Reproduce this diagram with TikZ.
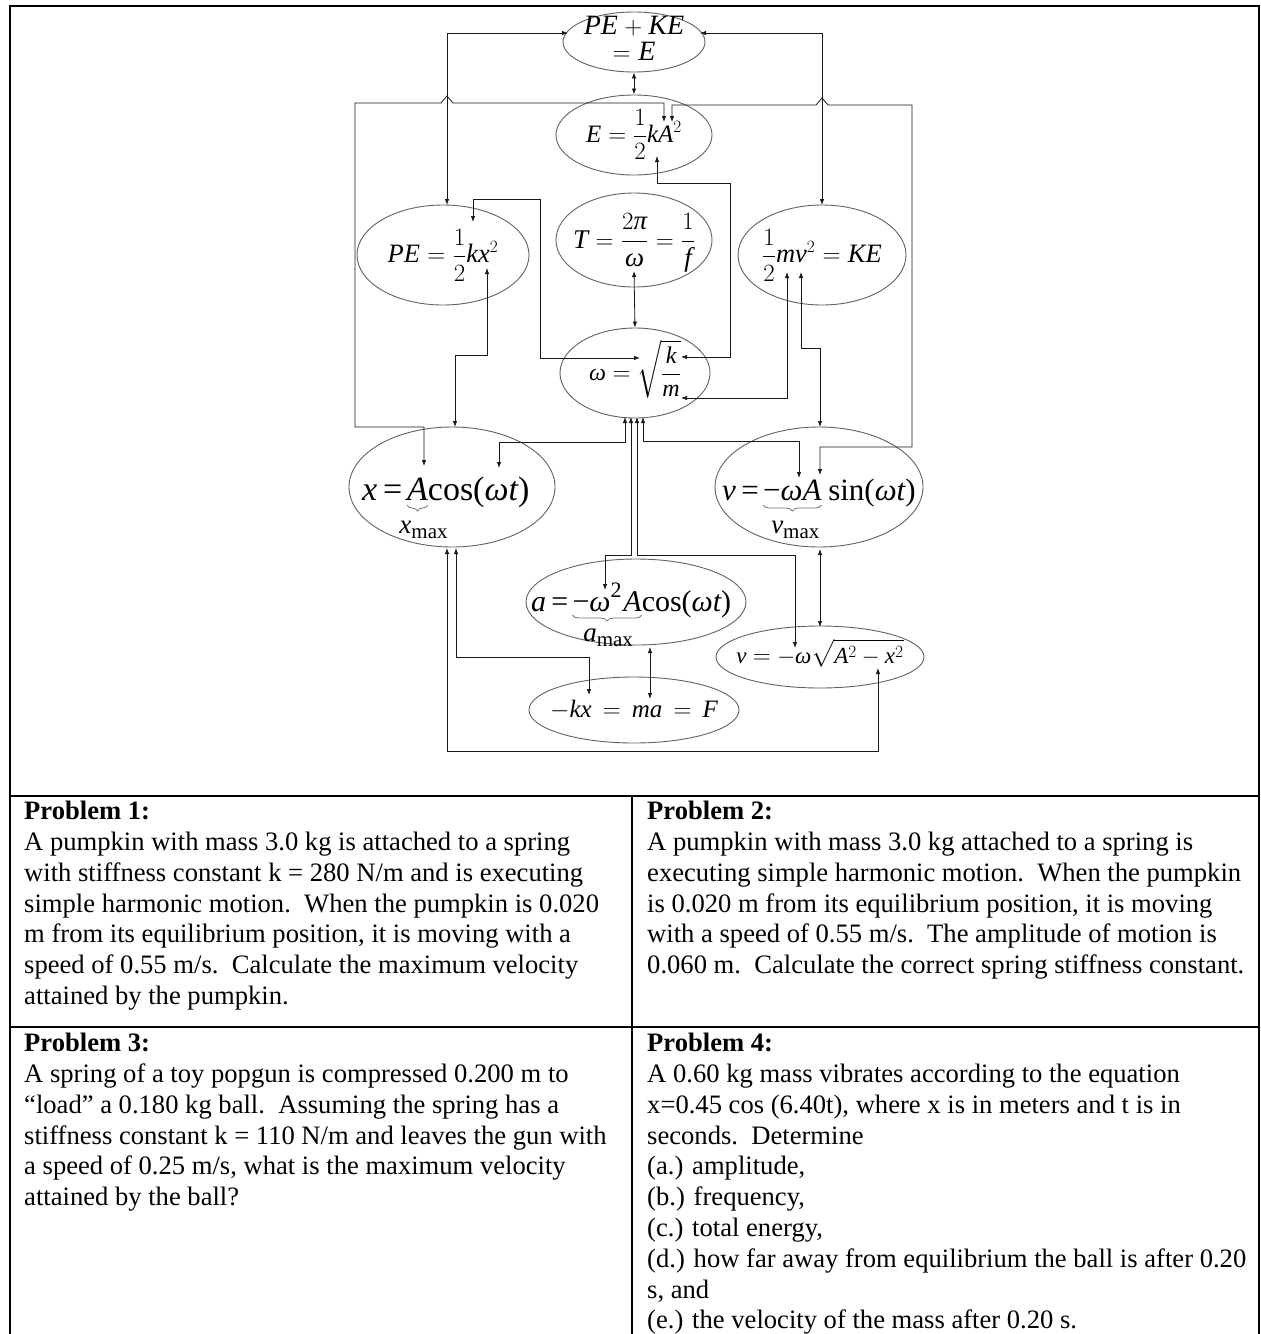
\documentclass[tikz,border=0pt]{standalone}
\usepackage{fontspec}
\setmainfont{Liberation Serif}
\newfontfamily\tnr[NFSSFamily=tnr]{Liberation Serif}
\DeclareFontShape{OML}{cmm}{m}{it}{<-6>cmmi5<6-7>cmmi6<7-8>cmmi7<8-9>cmmi8<9-10>cmmi9<10-12>cmmi10<12->cmmi12}{}
\DeclareFontShape{OMS}{cmsy}{m}{n}{<-6>cmsy5<6-7>cmsy6<7-8>cmsy7<8-9>cmsy8<9-10>cmsy9<10->cmsy10}{}
\DeclareFontShape{OMX}{cmex}{m}{n}{<->cmex10}{}
\DeclareSymbolFont{tnrit}{TU}{tnr}{m}{it}
\DeclareMathSymbol{a}{\mathalpha}{tnrit}{`a}
\DeclareMathSymbol{f}{\mathalpha}{tnrit}{`f}
\DeclareMathSymbol{k}{\mathalpha}{tnrit}{`k}
\DeclareMathSymbol{m}{\mathalpha}{tnrit}{`m}
\DeclareMathSymbol{t}{\mathalpha}{tnrit}{`t}
\DeclareMathSymbol{v}{\mathalpha}{tnrit}{`v}
\DeclareMathSymbol{x}{\mathalpha}{tnrit}{`x}
\DeclareMathSymbol{A}{\mathalpha}{tnrit}{`A}
\DeclareMathSymbol{E}{\mathalpha}{tnrit}{`E}
\DeclareMathSymbol{F}{\mathalpha}{tnrit}{`F}
\DeclareMathSymbol{K}{\mathalpha}{tnrit}{`K}
\DeclareMathSymbol{P}{\mathalpha}{tnrit}{`P}
\DeclareMathSymbol{T}{\mathalpha}{tnrit}{`T}
\usetikzlibrary{shapes.geometric,arrows.meta,decorations.pathreplacing}
\newcommand{\om}{\mbox{\itshape ω}}
\newcommand{\ppi}{\mbox{\itshape π}}
\newcommand{\tx}[1]{{\itshape #1}}
\newcommand{\ctrm}[2]{\smash{\makebox[0pt]{\fontsize{#1}{#1}\selectfont\raisebox{-0.3em}{$\displaystyle #2$}}}}
\newcommand{\ctrt}[3]{\smash{\makebox[0pt]{\fontsize{#1}{#2}\selectfont\raisebox{-0.25em}{\begin{tabular}{@{}c@{}}#3\end{tabular}}}}}
\newcommand{\maxlab}[1]{\tx{#1}\raisebox{-0.2em}{\fontsize{21}{21}\selectfont max}}
\begin{document}
\begin{tikzpicture}[x=1pt,y=-1pt,
  eq/.style={ellipse, draw=black!62, line width=0.9pt, inner sep=0pt},
  mt/.style={inner sep=0pt, outer sep=0pt, anchor=base west},
  brc/.style={draw=black!55, line width=0.8pt, decorate, decoration={brace, amplitude=6pt}},
  lab/.style={inner sep=0pt, anchor=base, font=\fontsize{27}{27}\selectfont},
  link/.style={line width=0.8pt, draw=black!90, {Latex[length=6pt,width=4.5pt]}-{Latex[length=6pt,width=4.5pt]}},
  frameline/.style={line width=2pt},
  prob/.style={anchor=north west, inner sep=0pt, align=left, font=\fontsize{26.6}{30.8}\selectfont}
]
\useasboundingbox (0,0) rectangle (1261,1334);

% ---- frame ----
\draw[frameline] (10,1334) -- (10,6) -- (1259,6) -- (1259,1334);
\draw[frameline] (10,796) -- (1259,796);
\draw[frameline] (10,1027) -- (1259,1027);
\draw[frameline] (632,796) -- (632,1334);

% ---- equation ellipses ----
\node[eq, minimum width=142pt, minimum height=60pt] (pke) at (634,42) {\ctrt{28}{24}{$PE + KE$\\$= E$}};
\node[eq, minimum width=156pt, minimum height=80pt] (ekA) at (634,135) {\ctrm{25}{E = \frac{1}{2}kA^2}};
\node[eq, minimum width=172pt, minimum height=100pt] (pe) at (443,255) {\ctrm{26.5}{PE = \frac{1}{2}kx^2}};
\node[eq, minimum width=156pt, minimum height=94pt] (T) at (634,240) {\ctrm{27}{T = \frac{2\ppi}{\om} = \frac{1}{f}}};
\node[eq, minimum width=168pt, minimum height=100pt] (ke) at (822,255) {\ctrm{26.5}{\frac{1}{2}mv^2 = KE}};
\node[eq, minimum width=150pt, minimum height=90pt] (om) at (635,373) {\ctrm{24}{\om = \sqrt{\frac{k}{m}}}};
\node[eq, minimum width=206pt, minimum height=120pt] (xeq) at (452,487) {};
\node[eq, minimum width=208pt, minimum height=120pt] (veq) at (819,487) {};
\node[eq, minimum width=220pt, minimum height=86pt] (aeq) at (636,602) {};
\node[eq, minimum width=208pt, minimum height=62pt] (vsq) at (820,657) {\ctrm{23}{v = -\om\sqrt{A^2 - x^2}}};
\node[eq, minimum width=210pt, minimum height=66pt] (F) at (634,710) {\ctrm{25}{-kx\, =\, ma\, =\, F}};

% ---- equations with braces ----
\begin{scope}[every node/.append style={font=\fontsize{34}{34}\selectfont}]
\node[mt] (xe1) at (362,500) {\tx{x}\kern0.18em=\kern0.14em\null};
\node[mt] (xeA) at (xe1.base east) {\tx{A}};
\node[mt] (xe2) at (xeA.base east) {cos(\tx{ωt})};
\end{scope}
\draw[brc] ([yshift=-5pt]xeA.base east) -- ([yshift=-5pt]xeA.base west) coordinate[midway] (xbt);
\node[lab] (xmax) at ([xshift=6pt, yshift=-28pt]xbt) {\maxlab{x}};

\begin{scope}[every node/.append style={font=\fontsize{31}{31}\selectfont}]
\node[mt] (ve1) at (722,500) {\tx{v}\kern0.18em=\kern0.14em\null};
\node[mt] (veA) at (ve1.base east) {−\tx{ωA}};
\node[mt] (ve2) at (veA.base east) {\kern0.22em sin(\tx{ωt})};
\end{scope}
\draw[brc] ([yshift=-5pt]veA.base east) -- ([yshift=-5pt]veA.base west) coordinate[midway] (vbt);
\node[lab] (vmax) at ([xshift=3pt, yshift=-28pt]vbt) {\maxlab{v}};

\begin{scope}[every node/.append style={font=\fontsize{30}{30}\selectfont}]
\node[mt] (ae1) at (531,611) {\tx{a}\kern0.18em=\kern0.14em\null};
\node[mt] (aeA) at (ae1.base east) {−\tx{ω}\raisebox{0.45em}{\fontsize{22}{22}\selectfont 2}\kern0.06em\tx{A}};
\node[mt] (ae2) at (aeA.base east) {cos(\tx{ωt})};
\end{scope}
\draw[brc] ([yshift=-4pt]aeA.base east) -- ([yshift=-4pt]aeA.base west) coordinate[midway] (abt);
\node[lab] (amax) at ([xshift=1pt, yshift=-26pt]abt) {\maxlab{a}};

% ---- connector end points ----
\coordinate (pkeL) at (568,33);
\coordinate (pkeR) at (700,33);
\coordinate (peT) at (447,205);
\coordinate (keT) at (822,205);
\coordinate (ekAt1) at (664,122);
\coordinate (ekAt2) at (672,122);
\coordinate (xT1) at (424,466);
\coordinate (vT2) at (820,475);
\coordinate (peA) at (473,222);
\coordinate (omL) at (640,358);
\coordinate (ekAb) at (657,156);
\coordinate (omR1) at (681,357);
\coordinate (Tb) at (634,271);
\coordinate (peB) at (487,268);
\coordinate (xT2) at (455,427);
\coordinate (keB1) at (787,272);
\coordinate (omR2) at (681,398);
\coordinate (keB2) at (801,272);
\coordinate (vT1) at (820,427);
\coordinate (omB1) at (625,417);
\coordinate (omB2) at (631,417);
\coordinate (omB3) at (637,417);
\coordinate (omB4) at (643,417);
\coordinate (xT3) at (499,468);
\coordinate (vT3) at (799,478);
\coordinate (aT) at (605,590);
\coordinate (vsT) at (795,648);
\coordinate (xB1) at (447,548);
\coordinate (xB2) at (456,548);
\coordinate (FT1) at (589,695);
\coordinate (vsB) at (878,668);
\coordinate (aB) at (650,647);
\coordinate (FT2) at (650,699);
\coordinate (vB) at (820,549);
\coordinate (vsTT) at (820,627);

% ---- connectors ----
\draw[link] (pkeL) -| (peT);
\draw[link] (pkeR) -| (keT);
\draw[link] (pke.south) -- (ekA.north);
\draw[link] (ekAt1) -- (664,103) -- (453,103) -- (447,96) -- (441,103) -- (355,103) -- (355,427) -- (424,427) -- (xT1);
\draw[link] (ekAt2) -- (672,105) -- (816,105) -- (822,98) -- (828,105) -- (912,105) -- (912,447) -- (820,447) -- (vT2);
\draw[link] (peA) -- (473,199) -- (540,199) -- (540,358) -- (omL);
\draw[link] (ekAb) -- (657,183) -- (730,183) -- (730,357) -- (omR1);
\draw[link] (Tb) -- (om.north);
\draw[link] (peB) -- (487,355) -- (455,355) -- (xT2);
\draw[link] (keB1) |- (omR2);
\draw[link] (keB2) -- (801,348) -- (820,348) -- (vT1);
\draw[link] (omB1) -- (625,442) -- (499,442) -- (xT3);
\draw[link] (omB4) -- (643,441) -- (799,441) -- (vT3);
\draw[link] (omB2) -- (631,555) -- (605,555) -- (aT);
\draw[link] (omB3) -- (637,555) -- (795,555) -- (vsT);
\draw[link] (xB2) -- (456,657) -- (589,657) -- (FT1);
\draw[link] (xB1) -- (447,751) -- (878,751) -- (vsB);
\draw[link] (aB) -- (FT2);
\draw[link] (vB) -- (vsTT);

% ---- problems ----
\node[prob] (p1) at (24,801) {\textbf{Problem 1:}\\
A pumpkin with mass 3.0 kg is attached to a spring\\
with stiffness constant k = 280 N/m and is executing\\
simple harmonic motion.\ \ When the pumpkin is 0.020\\
m from its equilibrium position, it is moving with a\\
speed of 0.55 m/s.\ \ Calculate the maximum velocity\\
attained by the pumpkin.};
\node[prob] (p2) at (647,801) {\textbf{Problem 2:}\\
A pumpkin with mass 3.0 kg attached to a spring is\\
executing simple harmonic motion.\ \ When the pumpkin\\
is 0.020 m from its equilibrium position, it is moving\\
with a speed of 0.55 m/s.\ \ The amplitude of motion is\\
0.060 m.\ \ Calculate the correct spring stiffness constant.};
\node[prob] (p3) at (24,1033) {\textbf{Problem 3:}\\
A spring of a toy popgun is compressed 0.200 m to\\
“load” a 0.180 kg ball.\ \ Assuming the spring has a\\
stiffness constant k = 110 N/m and leaves the gun with\\
a speed of 0.25 m/s, what is the maximum velocity\\
attained by the ball?};
\node[prob] (p4) at (647,1033) {\textbf{Problem 4:}\\
A 0.60 kg mass vibrates according to the equation\\
x=0.45 cos (6.40t), where x is in meters and t is in\\
seconds.\ \ Determine\\
(a.) amplitude,\\
(b.) frequency,\\
(c.) total energy,\\
(d.) how far away from equilibrium the ball is after 0.20\\
s, and\\
(e.) the velocity of the mass after 0.20 s.};
\end{tikzpicture}
\end{document}
